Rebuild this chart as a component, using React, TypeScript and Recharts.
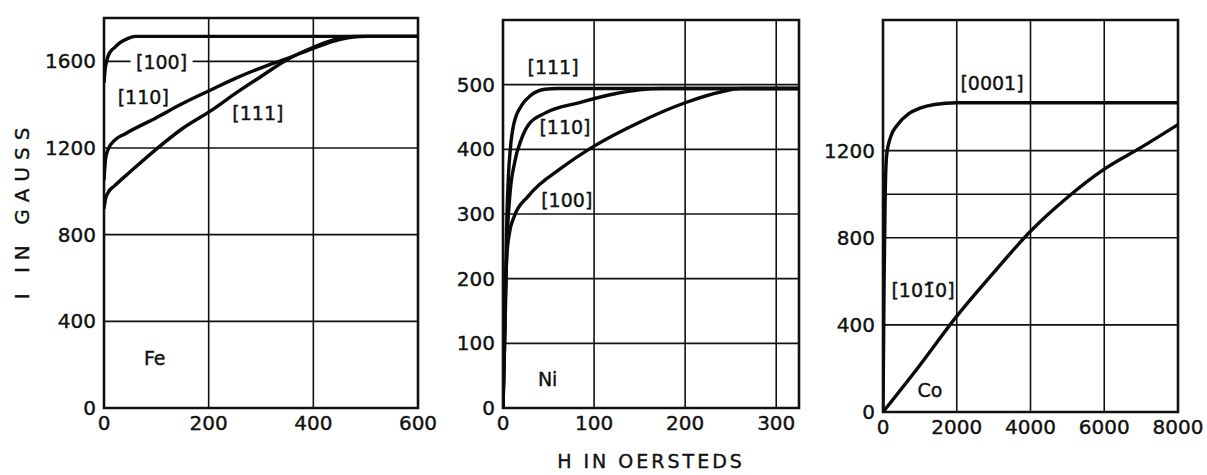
import React from "react";
import {
  LineChart,
  Line,
  XAxis,
  YAxis,
  ReferenceLine,
  ReferenceArea,
  ReferenceDot,
} from "recharts";

// magnetization curves, I (gauss) against H (oersteds)
const feH100 = [0, 2, 5, 8, 14, 21, 30, 45, 60, 600];
const feI100 = [1500, 1560, 1600, 1625, 1650, 1665, 1685, 1705, 1715, 1715];
const feH110 = [0, 3, 8, 20, 40, 100, 150, 206, 250, 300, 348, 400, 450, 500, 600];
const feI110 = [1050, 1150, 1195, 1235, 1265, 1340, 1405, 1470, 1520, 1570, 1612, 1660, 1700, 1715, 1715];
const feH111 = [0, 3, 8, 20, 50, 100, 150, 206, 250, 300, 348, 400, 440, 480, 600];
const feI111 = [920, 965, 995, 1025, 1090, 1195, 1290, 1375, 1450, 1530, 1605, 1665, 1700, 1715, 1715];

const niH111 = [0, 2, 4, 6, 8, 12, 21, 30, 46, 60, 325];
const niI111 = [0, 120, 280, 360, 400, 440, 469, 483, 493, 494, 494];
const niH110 = [0, 2, 4, 7, 13, 20, 28, 46, 83, 123, 150, 175, 325];
const niI110 = [0, 110, 240, 320, 381, 415, 438, 456, 472, 486, 492, 494, 494];
const niH100 = [0, 2, 4, 7, 12, 28, 65, 100, 150, 200, 240, 260, 325];
const niI100 = [0, 150, 230, 270, 295, 328, 372, 405, 442, 472, 489, 494, 494];

const coH0001 = [0, 30, 60, 100, 200, 400, 700, 1000, 1400, 2000, 8000];
const coI0001 = [0, 600, 1000, 1180, 1260, 1320, 1370, 1395, 1412, 1420, 1420];
const coH1010 = [0, 1000, 2000, 3000, 4000, 5000, 6000, 7000, 8000];
const coI1010 = [0, 215, 440, 640, 830, 985, 1115, 1215, 1320];

const feXTicks = [0, 200, 400, 600];
const feYTicks = [0, 400, 800, 1200, 1600];
const niXTicks = [0, 100, 200, 300];
const niYTicks = [0, 100, 200, 300, 400, 500];
const coXTicks = [0, 2000, 4000, 6000, 8000];
const coYTicks = [0, 400, 800, 1200];
const coYGrid = [400, 800, 1000, 1200];

const pts = (hs: number[], is: number[]) => hs.map((h, k) => ({ h, i: is[k] }));

const FONT = "'DejaVu Sans', sans-serif";
const tickStyle = { fill: "#111", fontSize: 20, fontFamily: FONT, stroke: "#111", strokeWidth: 0.4 };

type Note = { h: number; i: number; text: string; box?: boolean };

interface PanelProps {
  left: number;
  width: number;
  plotLeft: number;
  plotRight: number;
  plotTop: number;
  plotBottom: number;
  xMax: number;
  yMax: number;
  xTicks: number[];
  yTicks: number[];
  xGrid: number[];
  yGrid: number[];
  series: { h: number; i: number }[][];
  notes: Note[];
}

function noteShape(note: Note) {
  return (props: any) => (
    <g>
      {note.box && (
        <rect x={props.cx - 31} y={props.cy - 14} width={62} height={28} fill="#fff" />
      )}
      <text
        x={props.cx}
        y={props.cy}
        textAnchor="middle"
        dominantBaseline="central"
        fontFamily={FONT}
        fontSize={19}
        fill="#111"
        stroke="#111"
        strokeWidth={0.4}
      >
        {note.text}
      </text>
    </g>
  );
}

function Panel(p: PanelProps) {
  const yAxisW = p.plotLeft - p.left;
  const xAxisH = 30;
  return (
    <div style={{ position: "absolute", left: p.left, top: 0 }}>
      <LineChart
        width={p.width}
        height={475}
        margin={{
          top: p.plotTop,
          right: p.left + p.width - p.plotRight,
          bottom: 475 - p.plotBottom - xAxisH,
          left: 0,
        }}
      >
        <XAxis
          type="number"
          dataKey="h"
          domain={[0, p.xMax]}
          ticks={p.xTicks}
          axisLine={false}
          tickLine={false}
          height={xAxisH}
          tick={tickStyle}
          allowDataOverflow
        />
        <YAxis
          type="number"
          dataKey="i"
          domain={[0, p.yMax]}
          ticks={p.yTicks}
          axisLine={false}
          tickLine={false}
          width={yAxisW}
          tick={tickStyle}
          allowDataOverflow
        />
        {p.yGrid.map((v) => (
          <ReferenceLine key={"y" + v} y={v} stroke="#111" strokeWidth={1.6} />
        ))}
        {p.xGrid.map((v) => (
          <ReferenceLine key={"x" + v} x={v} stroke="#111" strokeWidth={1.6} />
        ))}
        {p.series.map((d, k) => (
          <Line
            key={k}
            data={d}
            dataKey="i"
            type="monotone"
            stroke="#0a0a0a"
            strokeWidth={3.4}
            dot={false}
            isAnimationActive={false}
          />
        ))}
        {p.notes.map((n) => (
          <ReferenceDot key={n.text} x={n.h} y={n.i} r={0} shape={noteShape(n)} />
        ))}
        <ReferenceArea
          x1={0}
          x2={p.xMax}
          y1={0}
          y2={p.yMax}
          fill="none"
          stroke="#111"
          strokeWidth={2.6}
        />
      </LineChart>
    </div>
  );
}

export default function App() {
  return (
    <div
      style={{
        position: "absolute",
        left: 0,
        top: 0,
        width: 1207,
        height: 475,
        background: "#fff",
        overflow: "hidden",
      }}
    >
      <Panel
        left={0}
        width={440}
        plotLeft={104}
        plotRight={418}
        plotTop={18}
        plotBottom={408}
        xMax={600}
        yMax={1800}
        xTicks={feXTicks}
        yTicks={feYTicks}
        xGrid={[200, 400]}
        yGrid={[400, 800, 1200, 1600]}
        series={[pts(feH100, feI100), pts(feH110, feI110), pts(feH111, feI111)]}
        notes={[
          { h: 110, i: 1597, text: "[100]", box: true },
          { h: 75, i: 1435, text: "[110]" },
          { h: 294, i: 1361, text: "[111]" },
          { h: 97, i: 231, text: "Fe" },
        ]}
      />
      <Panel
        left={440}
        width={380}
        plotLeft={503}
        plotRight={799}
        plotTop={20}
        plotBottom={408}
        xMax={325}
        yMax={600}
        xTicks={niXTicks}
        yTicks={niYTicks}
        xGrid={[100, 200, 300]}
        yGrid={[100, 200, 300, 400, 500]}
        series={[pts(niH111, niI111), pts(niH110, niI110), pts(niH100, niI100)]}
        notes={[
          { h: 55, i: 527, text: "[111]" },
          { h: 68, i: 435, text: "[110]" },
          { h: 70, i: 322, text: "[100]" },
          { h: 49, i: 45, text: "Ni" },
        ]}
      />
      <Panel
        left={820}
        width={387}
        plotLeft={883}
        plotRight={1178}
        plotTop={20}
        plotBottom={412}
        xMax={8000}
        yMax={1800}
        xTicks={coXTicks}
        yTicks={coYTicks}
        xGrid={[2000, 4000, 6000]}
        yGrid={coYGrid}
        series={[pts(coH0001, coI0001), pts(coH1010, coI1010)]}
        notes={[
          { h: 2956, i: 1511, text: "[0001]" },
          { h: 1085, i: 560, text: "[101\u03040]" },
          { h: 1275, i: 101, text: "Co" },
        ]}
      />
      <svg
        width={1207}
        height={475}
        style={{ position: "absolute", left: 0, top: 0, pointerEvents: "none" }}
      >
        <text
          x={22}
          y={210}
          transform="rotate(-90 22 210)"
          textAnchor="middle"
          dominantBaseline="central"
          fontFamily={FONT}
          fontSize={20}
          letterSpacing={7}
          fill="#111"
          stroke="#111"
          strokeWidth={0.4}
        >
          I IN GAUSS
        </text>
        <text
          x={651}
          y={468}
          textAnchor="middle"
          fontFamily={FONT}
          fontSize={19}
          letterSpacing={3}
          fill="#111"
          stroke="#111"
          strokeWidth={0.4}
        >
          H IN OERSTEDS
        </text>
      </svg>
    </div>
  );
}
